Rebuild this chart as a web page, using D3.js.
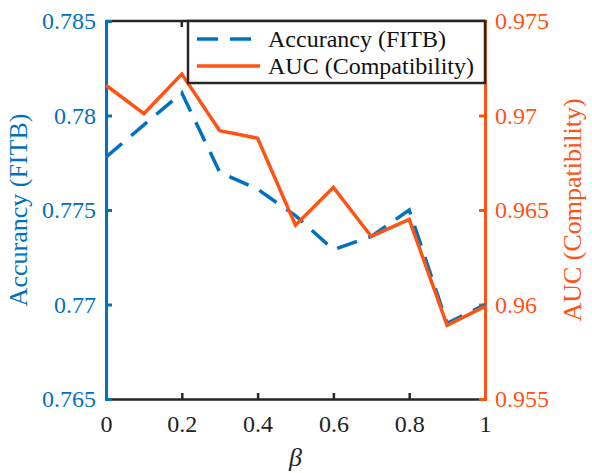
<!DOCTYPE html>
<html>
<head>
<meta charset="utf-8">
<script src="https://cdn.jsdelivr.net/npm/d3@7"></script>
<style>
  body { margin: 0; background: #fff; }
</style>
</head>
<body>
<div id="chart"></div>
<script>
// data
var betas = [0, 0.1, 0.2, 0.3, 0.4, 0.5, 0.6, 0.7, 0.8, 0.9, 1.0];
var accuracy = [0.7778, 0.7795, 0.7812, 0.7770, 0.7761, 0.7747, 0.7729, 0.7736, 0.7750, 0.7690, 0.7700];
var auc = [0.9716, 0.9701, 0.9722, 0.9692, 0.9688, 0.9642, 0.9662, 0.9636, 0.9645, 0.9589, 0.9599];
var xTicks = [0, 0.2, 0.4, 0.6, 0.8, 1];
var leftTicks = [0.765, 0.77, 0.775, 0.78, 0.785];
var rightTicks = [0.955, 0.96, 0.965, 0.97, 0.975];
var legendLabels = ["Accurancy (FITB)", "AUC (Compatibility)"];

var blue = "#0072BD", orange = "#FF5314", dark = "#262626";
var serif = "Tinos, 'Times New Roman', Times, 'Liberation Serif', 'DejaVu Serif', 'Noto Serif', serif";
var W = 592, H = 473;
var margin = {top: 21, right: 107, bottom: 74, left: 106},
    width = W - margin.left - margin.right,
    height = H - margin.top - margin.bottom;

var svg = d3.select("#chart").append("svg")
    .attr("width", W).attr("height", H);
var g = svg.append("g")
    .attr("transform", "translate(" + margin.left + "," + margin.top + ")");

var x = d3.scaleLinear().domain([0, 1]).range([0, width]);
var yL = d3.scaleLinear().domain([0.765, 0.785]).range([height, 0]);
var yR = d3.scaleLinear().domain([0.955, 0.975]).range([height, 0]);

var fmt = function(d) { return String(+d.toFixed(3)); };

// box top
g.append("line").attr("x1", 0).attr("x2", width).attr("y1", 0).attr("y2", 0)
  .attr("stroke", dark).attr("stroke-width", 2.5);

// bottom axis
var xAxis = g.append("g").attr("transform", "translate(0," + height + ")")
  .call(d3.axisBottom(x).tickValues(xTicks).tickSize(-6).tickPadding(16).tickFormat(fmt));
xAxis.attr("font-family", serif);
xAxis.select(".domain").attr("stroke", dark).attr("stroke-width", 2.5);
xAxis.selectAll(".tick line").attr("stroke", dark).attr("stroke-width", 2.5);
xAxis.selectAll("text").attr("fill", "#222").attr("font-size", 24);
// top ticks
g.selectAll(".ttick").data(xTicks.slice(1, -1)).enter().append("line")
  .attr("x1", function(d) { return x(d); }).attr("x2", function(d) { return x(d); })
  .attr("y1", 0).attr("y2", 6).attr("stroke", dark).attr("stroke-width", 2.5);

// left axis
var yAxisL = g.append("g")
  .call(d3.axisLeft(yL).tickValues(leftTicks).tickSize(-6).tickPadding(10).tickFormat(fmt));
yAxisL.attr("font-family", serif);
yAxisL.select(".domain").attr("stroke", blue).attr("stroke-width", 3);
yAxisL.selectAll(".tick line").attr("stroke", blue).attr("stroke-width", 3);
yAxisL.selectAll("text").attr("fill", blue).attr("font-size", 24);

// right axis
var yAxisR = g.append("g").attr("transform", "translate(" + width + ",0)")
  .call(d3.axisRight(yR).tickValues(rightTicks).tickSize(-6).tickPadding(10).tickFormat(fmt));
yAxisR.attr("font-family", serif);
yAxisR.select(".domain").attr("stroke", orange).attr("stroke-width", 3);
yAxisR.selectAll(".tick line").attr("stroke", orange).attr("stroke-width", 3);
yAxisR.selectAll("text").attr("fill", orange).attr("font-size", 24);

// lines
var lineL = d3.line().x(function(d, i) { return x(betas[i]); }).y(function(d) { return yL(d); });
var lineR = d3.line().x(function(d, i) { return x(betas[i]); }).y(function(d) { return yR(d); });

g.append("path").datum(accuracy).attr("d", lineL)
  .attr("fill", "none").attr("stroke", blue).attr("stroke-width", 3.5)
  .attr("stroke-dasharray", "21,12");
g.append("path").datum(auc).attr("d", lineR)
  .attr("fill", "none").attr("stroke", orange).attr("stroke-width", 3.5);

// axis labels
svg.append("text").attr("transform", "translate(27," + (margin.top + height / 2) + ") rotate(-90)")
  .attr("text-anchor", "middle").attr("fill", blue).attr("font-size", 26)
  .attr("font-family", serif).text("Accurancy (FITB)");
svg.append("text").attr("transform", "translate(581," + (margin.top + height / 2) + ") rotate(-90)")
  .attr("text-anchor", "middle").attr("fill", orange).attr("font-size", 26)
  .attr("font-family", serif).text("AUC (Compatibility)");
svg.append("text").attr("x", margin.left + width / 2).attr("y", 466)
  .attr("text-anchor", "middle").attr("fill", "#222").attr("font-size", 26)
  .attr("font-style", "italic").attr("font-family", serif).text("β");

// legend
var lg = svg.append("g").attr("transform", "translate(188,21)");
lg.append("rect").attr("width", 297).attr("height", 62)
  .attr("fill", "#fff").attr("stroke", dark).attr("stroke-width", 2.5);
var items = [{c: blue, dash: "21,12"}, {c: orange, dash: null}];
items.forEach(function(it, i) {
  var yy = 18 + i * 27;
  lg.append("line").attr("x1", 9).attr("x2", 72).attr("y1", yy).attr("y2", yy)
    .attr("stroke", it.c).attr("stroke-width", 3.5)
    .attr("stroke-dasharray", it.dash);
  lg.append("text").attr("x", 80).attr("y", yy + 8).attr("font-size", 24)
    .attr("fill", "#111").attr("font-family", serif).text(legendLabels[i]);
});
</script>
</body>
</html>
